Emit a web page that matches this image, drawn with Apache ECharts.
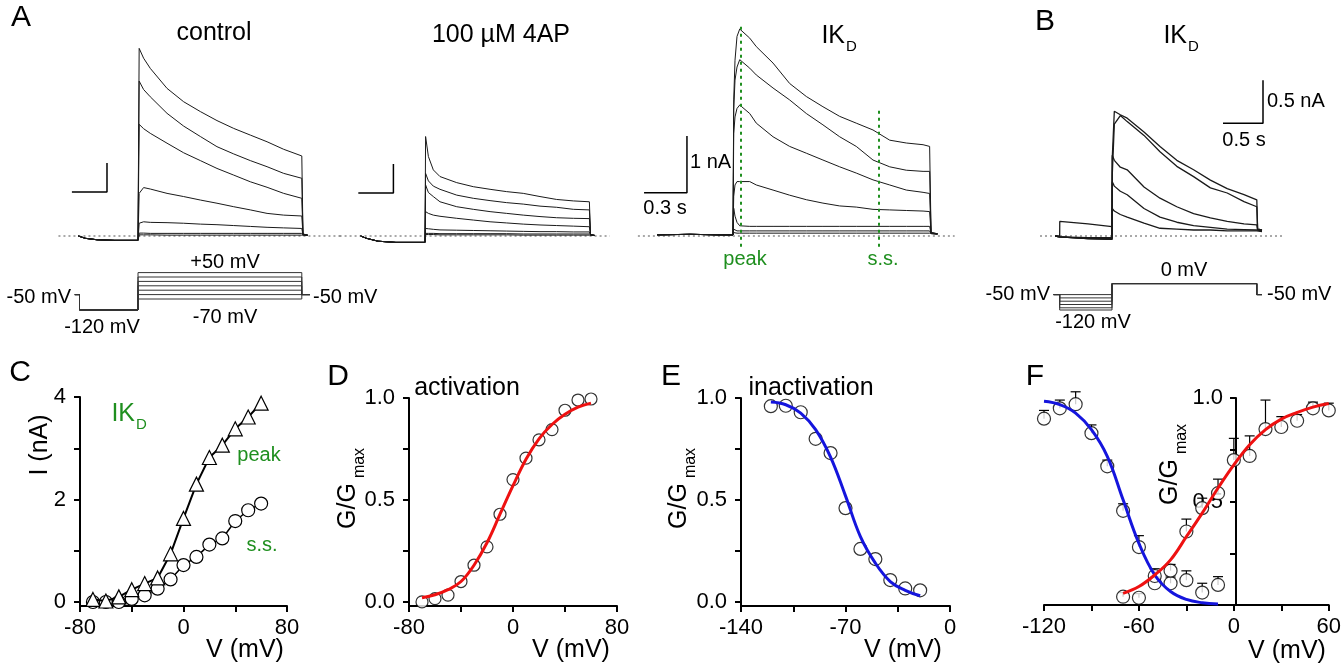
<!DOCTYPE html>
<html><head><meta charset="utf-8">
<script src="https://cdn.jsdelivr.net/npm/echarts@6/dist/echarts.min.js"></script>
<style>html,body{margin:0;padding:0;background:#fff}#c{width:1344px;height:667px}</style>
</head><body><div id="c"></div>
<script>
// ===== DATA =====
// Panel A, control traces (time s from step onset, current nA)
const ctrlTime = [-0.51,-0.45,-0.35,-0.2,0,0.01,0.048,0.105,0.248,0.39,0.533,0.675,0.818,0.96,1.103,1.245,1.4,1.41,1.45];
const ctrl1 = [0,-0.08,-0.13,-0.15,-0.15,6.47,6.13,5.78,5.09,4.63,4.29,3.98,3.71,3.48,3.25,2.99,2.76,0.05,0.03];
const ctrl2 = [0,-0.08,-0.13,-0.15,-0.15,5.34,5.05,4.80,4.23,3.79,3.43,3.08,2.83,2.60,2.39,2.16,1.99,0.05,0.03];
const ctrl3 = [0,-0.08,-0.13,-0.15,-0.15,3.85,3.70,3.54,3.20,2.87,2.60,2.33,2.10,1.87,1.68,1.47,1.30,0.05,0.03];
const ctrl4 = [0,-0.08,-0.13,-0.15,-0.15,1.47,1.67,1.62,1.47,1.36,1.24,1.13,1.01,0.90,0.78,0.72,0.69,0.05,0.03];
const ctrl5 = [0,-0.08,-0.13,-0.15,-0.15,0.44,0.49,0.47,0.46,0.44,0.41,0.39,0.36,0.33,0.30,0.28,0.26,0.04,0.03];
const ctrl6 = [0,-0.08,-0.13,-0.15,-0.15,0.10,0.10,0.09,0.09,0.09,0.09,0.09,0.09,0.09,0.09,0.09,0.09,0.03,0.02];
const ctrl7 = [0,-0.08,-0.13,-0.15,-0.15,0.04,0.04,0.04,0.03,0.03,0.03,0.03,0.03,0.03,0.03,0.03,0.03,0.02,0.02];
// Panel A, 100 uM 4AP traces
const apTime = [-0.55,-0.5,-0.4,-0.25,0,0.005,0.029,0.071,0.128,0.271,0.413,0.556,0.698,0.84,0.983,1.125,1.268,1.405,1.415,1.45];
const ap1 = [0,-0.08,-0.18,-0.22,-0.22,3.43,2.74,2.28,2.05,1.84,1.70,1.61,1.53,1.47,1.36,1.26,1.21,1.18,0.04,0.02];
const ap2 = [0,-0.08,-0.18,-0.22,-0.22,2.16,1.90,1.72,1.61,1.41,1.30,1.22,1.15,1.10,1.03,0.99,0.92,0.90,0.04,0.02];
const ap3 = [0,-0.08,-0.18,-0.22,-0.22,1.76,1.50,1.36,1.18,1.01,0.92,0.84,0.78,0.72,0.67,0.63,0.61,0.60,0.04,0.02];
const ap4 = [0,-0.08,-0.18,-0.22,-0.22,0.84,0.78,0.72,0.68,0.61,0.55,0.49,0.45,0.41,0.38,0.36,0.34,0.32,0.03,0.02];
const ap5 = [0,-0.08,-0.18,-0.22,-0.22,0.26,0.25,0.23,0.21,0.20,0.19,0.18,0.17,0.16,0.15,0.15,0.14,0.14,0.03,0.02];
const ap6 = [0,-0.08,-0.18,-0.22,-0.22,0.09,0.09,0.09,0.08,0.08,0.08,0.08,0.08,0.07,0.07,0.07,0.07,0.07,0.02,0.02];
const ap7 = [0,-0.08,-0.18,-0.22,-0.22,0.05,0.05,0.05,0.04,0.04,0.04,0.04,0.04,0.03,0.03,0.03,0.03,0.03,0.02,0.02];
// Panel A, IKD traces
const kTime = [-0.53,-0.3,-0.1,0,0.005,0.014,0.028,0.047,0.117,0.163,0.28,0.396,0.513,0.629,0.746,0.862,0.979,1.096,1.212,1.329,1.375,1.385,1.43];
const k1 = [0.02,0.03,0.02,0.02,2.4,3.1,3.52,3.65,3.49,3.34,3.05,2.69,2.46,2.28,2.11,1.99,1.87,1.69,1.64,1.61,1.58,0.06,0.04];
const k2 = [0.02,0.03,0.02,0.02,2.22,2.75,2.98,3.11,2.96,2.84,2.61,2.40,2.16,1.96,1.75,1.58,1.34,1.22,1.16,1.14,1.14,0.06,0.04];
const k3 = [0.02,0.03,0.02,0.02,1.81,2.10,2.25,2.31,2.16,1.99,1.75,1.58,1.46,1.34,1.22,1.11,0.99,0.90,0.81,0.77,0.75,0.05,0.04];
const k4 = [0.02,0.03,0.02,0.02,0.70,0.90,0.96,0.96,0.96,0.90,0.81,0.72,0.64,0.58,0.53,0.51,0.47,0.46,0.45,0.44,0.43,0.05,0.04];
const k5 = [0.02,0.03,0.02,0.02,0.49,0.35,0.24,0.18,0.17,0.17,0.17,0.17,0.17,0.17,0.17,0.17,0.17,0.17,0.17,0.17,0.17,0.05,0.04];
const k6 = [0.02,0.03,0.02,0.02,0.12,0.10,0.09,0.09,0.09,0.09,0.09,0.09,0.09,0.09,0.09,0.09,0.09,0.09,0.09,0.09,0.09,0.04,0.03];
const k7 = [0.02,0.03,0.02,0.02,0.06,0.05,0.05,0.05,0.05,0.05,0.05,0.05,0.05,0.05,0.05,0.05,0.05,0.05,0.05,0.05,0.05,0.04,0.03];
const peakTime = 0.056, ssTime = 1.021;
// Panel B, IKD traces after prepulses
const bTime = [-0.71,-0.654,-0.653,-0.3,0,0.003,0.029,0.104,0.19,0.40,0.60,0.81,1.02,1.23,1.44,1.65,1.81,1.82,1.875];
const b1 = [0,-0.01,-0.02,-0.03,-0.04,0.90,1.45,1.41,1.37,1.21,1.04,0.88,0.77,0.65,0.55,0.48,0.42,0.08,0.07];
const b2 = [0,-0.01,-0.02,-0.03,-0.04,0.70,1.30,1.40,1.33,1.17,0.98,0.81,0.69,0.56,0.50,0.40,0.34,0.08,0.07];
const b3 = [0,-0.01,-0.02,-0.03,-0.03,0.94,0.88,0.80,0.77,0.57,0.44,0.34,0.26,0.21,0.17,0.14,0.13,0.07,0.06];
const b4 = [0,-0.01,-0.02,-0.02,-0.02,0.63,0.58,0.52,0.48,0.32,0.22,0.16,0.12,0.10,0.08,0.075,0.07,0.06,0.06];
const b5 = [0,0,0.17,0.14,0.11,0.32,0.29,0.25,0.22,0.15,0.09,0.08,0.07,0.07,0.06,0.06,0.06,0.05,0.05];
// Voltage protocols (time s, mV)
const protoATime = [-0.54,-0.5,-0.5,0,0,1.4,1.4,1.47];
const protoALevels = [50,30,10,-10,-30,-50,-70];
const protoBTime = [-0.73,-0.654,-0.654,0,0,1.81,1.81,1.875];
const protoBLevels = [-50,-65,-80,-95,-110,-120];
// Panel C: I-V
const cV = [-70,-60,-50,-40,-30,-20,-10,0,10,20,30,40,50,60];
const cPeak = [0.05,0.02,0.10,0.24,0.36,0.47,0.94,1.63,2.30,2.82,3.06,3.38,3.61,3.88];
const cSS = [0,0,0,0.06,0.13,0.26,0.44,0.72,0.88,1.12,1.24,1.58,1.79,1.92];
// Panel D: activation
const dV = [-70,-60,-50,-40,-30,-20,-10,0,10,20,30,40,50,60];
const dG = [0.0,0.016,0.033,0.10,0.18,0.27,0.43,0.60,0.705,0.795,0.845,0.94,0.99,0.995];
const dFit = [0.02,0.035,0.06,0.10,0.18,0.29,0.43,0.57,0.70,0.80,0.87,0.92,0.955,0.975];
// Panel E: inactivation
const eV = [-120,-110,-100,-90,-80,-70,-60,-50,-40,-30,-20];
const eG = [0.96,0.962,0.93,0.80,0.73,0.46,0.26,0.21,0.107,0.066,0.057];
const eFit = [0.98,0.967,0.926,0.845,0.71,0.52,0.32,0.19,0.10,0.057,0.03];
// Panel F: pooled activation / inactivation with SEM
const fInV = [-120,-110,-100,-90,-80,-70,-60,-50,-40,-30,-20,-10];
const fInG = [0.90,0.95,0.97,0.83,0.67,0.455,0.28,0.105,0.105,0.12,0.06,0.097];
const fInErr = [0.04,0.04,0.06,0.04,0.03,0.034,0.055,0.03,0.03,0.045,0.045,0.04];
const fActV = [-70,-60,-50,-40,-30,-20,-10,0,10,20,30,40,50,60];
const fActG = [0.04,0.035,0.14,0.166,0.355,0.468,0.54,0.70,0.72,0.85,0.86,0.89,0.95,0.94];
const fActErr = [0.02,0.02,0.035,0.03,0.06,0.048,0.068,0.105,0.097,0.14,0.05,0.03,0.03,0.035];
const fInFitV = [-120,-110,-100,-90,-80,-70,-60,-50,-40,-30,-20,-10];
const fInFit = [0.984,0.968,0.927,0.847,0.718,0.508,0.298,0.145,0.065,0.027,0.011,0.005];
const fActFitV = [-70,-60,-50,-40,-30,-20,-10,0,10,20,30,40,50,60];
const fActFit = [0.056,0.089,0.145,0.218,0.33,0.444,0.565,0.677,0.774,0.847,0.898,0.93,0.956,0.973];

// ===== CHART =====
const FONT = '"Liberation Sans", Arial, sans-serif';
const GREEN = '#1f8f1f', RED = '#ee1111', BLUE = '#1515dd';
const zip = (a, b) => a.map((x, i) => [x, b[i]]);
const zip3 = (a, b, c) => a.map((x, i) => [x, b[i], c[i]]);

const grids = [
  {left:56.1, top:33, width:286.65, height:217.5},      // 0 control
  {left:56.1, top:270.4, width:286.65, height:41.8},    // 1 control protocol
  {left:337.25, top:33, width:274.95, height:217.5},    // 2 4AP
  {left:632.9, top:9.2, width:328.9, height:255.15},    // 3 IKD
  {left:1040, top:64, width:244, height:197.8},         // 4 B
  {left:1040, top:270.4, width:244, height:41.8},       // 5 B protocol
  {left:80, top:397, width:207, height:209},            // 6 C
  {left:409, top:398, width:208, height:208},           // 7 D
  {left:741, top:398, width:209, height:208},           // 8 E
  {left:1044, top:398, width:288, height:207}           // 9 F
];
const hid = (i, min, max) => ({gridIndex:i, type:'value', min, max, show:false});
const axLine = {show:true, onZero:false, lineStyle:{color:'#000', width:2}};
const tickPlain = {show:true, length:6, lineStyle:{color:'#000', width:2}};
const axTick = (vals) => ({show:true, length:6, lineStyle:{color:'#000', width:2}, customValues: vals});
const lab = (fmt, vals, margin) => ({show:true, color:'#000', fontSize:22, fontFamily:FONT, margin:margin, formatter:fmt, customValues: vals, showMinLabel:true, showMaxLabel:true});

const xAxes = [
  hid(0,-0.7,1.75), hid(1,-0.7,1.75), hid(2,-0.75,1.6), hid(3,-0.7,1.6), hid(4,-0.9,2.15), hid(5,-0.9,2.15),
  {gridIndex:6, type:'value', min:-80, max:80, interval:40, axisLine:axLine, axisTick:tickPlain, axisLabel:lab(v => v%80===0 ? String(v) : '', undefined, 11), splitLine:{show:false}},
  {gridIndex:7, type:'value', min:-80, max:80, interval:40, axisLine:axLine, axisTick:tickPlain, axisLabel:lab(v => v%80===0 ? String(v) : '', undefined, 11), splitLine:{show:false}},
  {gridIndex:8, type:'value', min:-140, max:0, interval:35, axisLine:axLine, axisTick:tickPlain, axisLabel:lab(v => v%70===0 ? String(v) : '', undefined, 11), splitLine:{show:false}},
  {gridIndex:9, type:'value', min:-120, max:60, interval:30, axisLine:axLine, axisTick:tickPlain, axisLabel:lab(v => v%60===0 ? String(v) : '', undefined, 11), splitLine:{show:false}}
];
const yAxes = [
  hid(0,-0.5,7), hid(1,-130,60), hid(2,-0.5,7), hid(3,-0.5,4), hid(4,-0.3,2), hid(5,-130,60),
  {gridIndex:6, type:'value', min:-0.078, max:4, axisLine:axLine, axisTick:axTick([0,1,2,3,4]), axisLabel:lab(v => String(v), [0,2,4], 14), splitLine:{show:false}},
  {gridIndex:7, type:'value', min:-0.02, max:1, axisLine:axLine, axisTick:axTick([0,0.25,0.5,0.75,1]), axisLabel:lab(v => v.toFixed(1), [0,0.5,1], 14), splitLine:{show:false}},
  {gridIndex:8, type:'value', min:-0.02, max:1, axisLine:axLine, axisTick:axTick([0,0.25,0.5,0.75,1]), axisLabel:lab(v => v.toFixed(1), [0,0.5,1], 14), splitLine:{show:false}},
  // F: y axis sits at V = 0 (192 px right of the grid's left edge)
  {gridIndex:9, type:'value', min:0, max:1, interval:0.25, position:'left', offset:-192, axisLine:axLine, axisTick:tickPlain, axisLabel:lab(v => (v===0.5||v===1) ? v.toFixed(1) : '', undefined, 13), splitLine:{show:false}}
];

const series = [];
function line(g, data, color, width, extra) {
  series.push(Object.assign({type:'line', xAxisIndex:g, yAxisIndex:g, data:data, symbol:'none', showSymbol:false, silent:true,
    lineStyle:{color:color, width:width}, z:2}, extra || {}));
}
function dotted(g, t0, t1) { line(g, [[t0,0],[t1,0]], '#555', 1, {lineStyle:{color:'#555', width:1, type:[2,3]}, z:1}); }
// baselines
dotted(0, -0.68, 1.75); dotted(2, -0.73, 1.58); dotted(3, -0.665, 1.55); dotted(4, -0.9, 2.14);
// traces
[ctrl1,ctrl2,ctrl3,ctrl4,ctrl5,ctrl6,ctrl7].forEach(v => line(0, zip(ctrlTime, v), '#1a1a1a', 1));
[ap1,ap2,ap3,ap4,ap5,ap6,ap7].forEach(v => line(2, zip(apTime, v), '#1a1a1a', 1));
[k1,k2,k3,k4,k5,k6,k7].forEach(v => line(3, zip(kTime, v), '#1a1a1a', 1));
[b1,b2,b3,b4,b5].forEach(v => line(4, zip(bTime, v), '#1a1a1a', 1.3));
// peak / s.s. markers
line(3, [[peakTime,-0.19],[peakTime,3.69]], GREEN, 2, {lineStyle:{color:GREEN, width:2, type:[3,4]}, z:3});
line(3, [[ssTime,-0.19],[ssTime,2.22]], GREEN, 2, {lineStyle:{color:GREEN, width:2, type:[3,4]}, z:3});
// scale bars (0.3 s / 1 nA ; 0.5 s / 0.5 nA)
line(0, [[-0.565,1.52],[-0.265,1.52],[-0.265,2.52]], '#000', 1.5);
line(2, [[-0.57,1.48],[-0.27,1.48],[-0.27,2.48]], '#000', 1.5);
line(3, [[-0.622,0.764],[-0.322,0.764],[-0.322,1.764]], '#000', 1.5);
line(4, [[1.3875,1.31],[1.8875,1.31],[1.8875,1.81]], '#000', 1.5);
// protocols
protoALevels.forEach(L => line(1, zip(protoATime, [-50,-50,-120,-120,L,L,-50,-50]), '#333', 1));
protoBLevels.forEach(L => line(5, zip(protoBTime, [-50,-50,L,L,0,0,-50,-50]), '#333', 1));

// Panel C
series.push({type:'line', xAxisIndex:6, yAxisIndex:6, data:zip(cV, cSS), symbol:'circle', symbolSize:13, showSymbol:true, silent:true,
  lineStyle:{color:'#000', width:1.5}, itemStyle:{color:'#fff', borderColor:'#000', borderWidth:1.2}, z:3});
series.push({type:'line', xAxisIndex:6, yAxisIndex:6, data:zip(cV, cPeak), symbol:'triangle', symbolSize:14, showSymbol:true, silent:true,
  lineStyle:{color:'#000', width:2}, itemStyle:{color:'#fff', borderColor:'#000', borderWidth:1.2}, z:4});
// Panel D
series.push({type:'scatter', xAxisIndex:7, yAxisIndex:7, data:zip(dV, dG), symbol:'circle', symbolSize:12, silent:true,
  itemStyle:{color:'#fff', borderColor:'#000', borderWidth:1.2}, z:3});
line(7, zip(dV, dFit), RED, 3, {smooth:0.4, z:4});
// Panel E
series.push({type:'scatter', xAxisIndex:8, yAxisIndex:8, data:zip(eV, eG), symbol:'circle', symbolSize:13, silent:true,
  itemStyle:{color:'#fff', borderColor:'#000', borderWidth:1.2}, z:3});
line(8, zip(eV, eFit), BLUE, 3, {smooth:0.4, z:4});
// Panel F error bars
function errBars(v, g, e) {
  series.push({type:'custom', xAxisIndex:9, yAxisIndex:9, data:zip3(v, g, e), silent:true, z:2,
    renderItem: function (params, api) {
      const x = api.value(0), y = api.value(1), er = api.value(2);
      const p0 = api.coord([x, y]), p1 = api.coord([x, y + er]);
      return {type:'group', children:[
        {type:'line', shape:{x1:p0[0], y1:p0[1], x2:p1[0], y2:p1[1]}, style:{stroke:'#000', lineWidth:1.2}},
        {type:'line', shape:{x1:p1[0]-5, y1:p1[1], x2:p1[0]+5, y2:p1[1]}, style:{stroke:'#000', lineWidth:1.2}}
      ]};
    }});
}
errBars(fInV, fInG, fInErr);
errBars(fActV, fActG, fActErr);
series.push({type:'scatter', xAxisIndex:9, yAxisIndex:9, data:zip(fInV, fInG), symbol:'circle', symbolSize:13, silent:true,
  itemStyle:{color:'#fff', borderColor:'#000', borderWidth:1.2}, z:3});
series.push({type:'scatter', xAxisIndex:9, yAxisIndex:9, data:zip(fActV, fActG), symbol:'circle', symbolSize:13, silent:true,
  itemStyle:{color:'#fff', borderColor:'#000', borderWidth:1.2}, z:3});
line(9, zip(fInFitV, fInFit), BLUE, 3, {smooth:0.4, z:4});
line(9, zip(fActFitV, fActFit), RED, 3, {smooth:0.4, z:4});

// ===== TEXT =====
function T(text, x, y, size, opt) {
  opt = opt || {};
  return {type:'text', x:x, y:y, rotation:opt.rot || 0, z:10, silent:true,
    style:{text:text, fontSize:size, fontFamily:FONT, fill:opt.color || '#000', align:opt.align || 'center', verticalAlign:'middle'}};
}
const R = Math.PI / 2;
const graphic = [
  T('A', 21, 18, 30), T('control', 214, 33, 25), T('100 µM 4AP', 501, 35, 25),
  T('IK', 845, 36, 25, {align:'right'}), T('D', 846, 47, 15, {align:'left'}),
  T('1 nA', 690, 162, 20, {align:'left'}), T('0.3 s', 665, 208, 20),
  T('peak', 745, 259, 20, {color:GREEN}), T('s.s.', 883, 259, 20, {color:GREEN}),
  T('+50 mV', 225, 262, 20), T('-70 mV', 225, 317, 20), T('-50 mV', 71, 297, 20, {align:'right'}),
  T('-120 mV', 102, 327, 20), T('-50 mV', 313, 297, 20, {align:'left'}),
  T('B', 1045, 22, 30), T('IK', 1187, 36, 25, {align:'right'}), T('D', 1188, 47, 15, {align:'left'}),
  T('0.5 nA', 1267, 101, 20, {align:'left'}), T('0.5 s', 1244, 140, 20),
  T('0 mV', 1184, 270, 20), T('-50 mV', 1050, 294, 20, {align:'right'}), T('-120 mV', 1093, 322, 20),
  T('-50 mV', 1267, 294, 20, {align:'left'}),
  // bottom row
  T('C', 20, 373, 30), T('IK', 135, 414, 25, {align:'right', color:GREEN}), T('D', 136, 425, 15, {align:'left', color:GREEN}),
  T('peak', 259, 455, 20, {color:GREEN}), T('s.s.', 262, 545, 20, {color:GREEN}),
  T('I (nA)', 40, 445, 25, {rot:R}), T('V (mV)', 245, 650, 25),
  T('D', 338, 377, 30), T('activation', 467, 388, 25),
  T('G/G', 348, 506, 25, {rot:R}), T('max', 360, 463, 16, {rot:R}), T('V (mV)', 571, 650, 25),
  T('E', 671, 377, 30), T('inactivation', 811, 388, 25),
  T('G/G', 679, 506, 25, {rot:R}), T('max', 691, 463, 16, {rot:R}), T('V (mV)', 903, 650, 25),
  T('F', 1035, 377, 30),
  T('G/G', 1170, 482, 25, {rot:R}), T('max', 1182, 439, 16, {rot:R}), T('V (mV)', 1287, 651, 25)
];

const chart = echarts.init(document.getElementById('c'), null, {renderer:'canvas', width:1344, height:667});
chart.setOption({
  animation:false, backgroundColor:'#fff',
  grid:grids, xAxis:xAxes, yAxis:yAxes, series:series, graphic:graphic
});
</script></body></html>
